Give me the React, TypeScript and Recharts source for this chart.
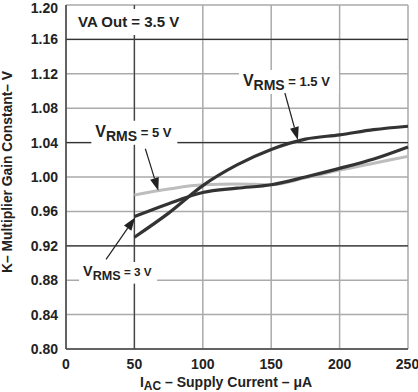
import {
  CartesianGrid,
  Label,
  Line,
  LineChart,
  ReferenceDot,
  ReferenceLine,
  XAxis,
  YAxis,
} from "recharts";

const currents = [50, 75, 100, 125, 150, 175, 200, 225, 250];
const vrms15 = [0.93, 0.958, 0.99, 1.014, 1.032, 1.044, 1.049, 1.055, 1.059];
const vrms3 = [0.954, 0.969, 0.982, 0.987, 0.991, 1.0, 1.01, 1.021, 1.035];
const vrms5 = [0.979, 0.986, 0.991, 0.992, 0.991, 0.999, 1.008, 1.016, 1.024];

const xTicks = [0, 50, 100, 150, 200, 250];
const yTicks = [0.8, 0.84, 0.88, 0.92, 0.96, 1.0, 1.04, 1.08, 1.12, 1.16, 1.2];
const darkRows = [1.16, 1.04, 0.92];
const darkCols = [50];

const data = currents.map((c, i) => ({
  current: c,
  v15: vrms15[i],
  v3: vrms3[i],
  v5: vrms5[i],
}));

const FONT = "'Liberation Sans', Arial, Helvetica, sans-serif";
const INK = "#222";

function Arrow({ x1, y1, x2, y2 }: { x1: number; y1: number; x2: number; y2: number }) {
  const dx = x2 - x1;
  const dy = y2 - y1;
  const len = Math.hypot(dx, dy);
  const ux = dx / len;
  const uy = dy / len;
  const hl = 13;
  const hw = 4.5;
  const bx = x2 - ux * hl;
  const by = y2 - uy * hl;
  return (
    <g>
      <line x1={x1} y1={y1} x2={bx} y2={by} stroke={INK} strokeWidth={1.2} />
      <polygon
        points={`${x2},${y2} ${bx - uy * hw},${by + ux * hw} ${bx + uy * hw},${by - ux * hw}`}
        fill={INK}
      />
    </g>
  );
}

// label "VRMS = x V" with an arrow pointing at (cx, cy)
function rmsNote(value: string, tail: [number, number], text: [number, number], box: number, s = 1) {
  return (p: any) => {
    const { cx, cy } = p;
    const tx = cx + text[0];
    const ty = cy + text[1];
    return (
      <g>
        <rect x={tx - 4} y={ty - 16 * s} width={box} height={24 * s} fill="#fff" />
        <Arrow x1={cx + tail[0]} y1={cy + tail[1]} x2={cx} y2={cy} />
        <text x={tx} y={ty} fontFamily={FONT} fontWeight="bold" fill={INK}>
          <tspan fontSize={16 * s}>V</tspan>
          <tspan fontSize={14 * s} dy={4 * s}>RMS</tspan>
          <tspan fontSize={13 * s} dy={-4 * s}>{` = ${value} V`}</tspan>
        </text>
      </g>
    );
  };
}

function vaNote(p: any) {
  const { cx, cy } = p;
  return (
    <g>
      <rect x={cx + 6} y={cy + 4} width={124} height={26} fill="#fff" />
      <text x={cx + 12} y={cy + 22} fontFamily={FONT} fontWeight="bold" fontSize={15} fill={INK}>
        VA Out = 3.5 V
      </text>
    </g>
  );
}

function YTick(p: any) {
  const { x, y, payload } = p;
  const shift = payload.value >= 1.2 ? 3 : 0;
  return (
    <text
      x={x}
      y={y + shift}
      dy="0.355em"
      textAnchor="end"
      fontFamily={FONT}
      fontWeight="bold"
      fontSize={14}
      fill={INK}
    >
      {Number(payload.value).toFixed(2)}
    </text>
  );
}

function XTitle(p: any) {
  const vb = p.viewBox;
  return (
    <text
      x={vb.x + vb.width / 2 - 11}
      y={vb.y + 38}
      textAnchor="middle"
      fontFamily={FONT}
      fontWeight="bold"
      fontSize={14}
      fill={INK}
    >
      <tspan>I</tspan>
      <tspan fontSize={12} dy={3}>AC</tspan>
      <tspan dy={-3}> – Supply Current – μA</tspan>
    </text>
  );
}

function YTitle(p: any) {
  const vb = p.viewBox;
  const cy = vb.y + vb.height / 2 - 5;
  return (
    <text
      x={12}
      y={cy}
      transform={`rotate(-90 12 ${cy})`}
      textAnchor="middle"
      fontFamily={FONT}
      fontWeight="bold"
      fontSize={14}
      textLength={202}
      lengthAdjust="spacingAndGlyphs"
      fill={INK}
    >
      K– Multiplier Gain Constant– V
    </text>
  );
}

export default function App() {
  const tick = { fontSize: 14, fontWeight: "bold", fill: INK, fontFamily: FONT };
  return (
    <div style={{ position: "absolute", left: 0, top: 0, background: "#fff" }}>
      <LineChart
        width={418}
        height={392}
        data={data}
        margin={{ top: 5, right: 10, left: 0, bottom: 0 }}
      >
        <CartesianGrid stroke="#aaa" strokeWidth={1.5} />
        <XAxis
          dataKey="current"
          type="number"
          domain={[0, 250]}
          ticks={xTicks}
          height={43}
          tickLine={false}
          tickSize={8}
          tickMargin={2}
          axisLine={{ stroke: "#444", strokeWidth: 1.5 }}
          tick={tick}
        >
          <Label content={XTitle} />
        </XAxis>
        <YAxis
          type="number"
          domain={[0.8, 1.2]}
          ticks={yTicks}
          width={66}
          tickLine={false}
          tickSize={8}
          tickMargin={0}
          interval={0}
          axisLine={{ stroke: "#444", strokeWidth: 1.5 }}
          tick={YTick}
        >
          <Label content={YTitle} />
        </YAxis>
        {darkRows.map((y) => (
          <ReferenceLine key={`r${y}`} y={y} stroke="#333" strokeWidth={1.3} />
        ))}
        {darkCols.map((x) => (
          <ReferenceLine key={`c${x}`} x={x} stroke="#444" strokeWidth={1.3} />
        ))}
        <ReferenceDot x={0} y={1.2} r={1} ifOverflow="visible" shape={vaNote} />
        <ReferenceDot
          x={169.5}
          y={1.043}
          r={1}
          ifOverflow="visible"
          shape={rmsNote("1.5", [-13, -47], [-55, -54], 100)}
        />
        <ReferenceDot
          x={67.5}
          y={0.984}
          r={1}
          ifOverflow="visible"
          shape={rmsNote("5", [-13, -42], [-63, -54], 86)}
        />
        <ReferenceDot
          x={50.5}
          y={0.953}
          r={1}
          ifOverflow="visible"
          shape={rmsNote("3", [-29, 42], [-52, 59], 78, 0.9)}
        />
        <Line
          dataKey="v5"
          type="monotone"
          stroke="#bdbdbd"
          strokeWidth={3}
          dot={false}
          isAnimationActive={false}
        />
        <Line
          dataKey="v3"
          type="monotone"
          stroke="#333"
          strokeWidth={3.2}
          dot={false}
          isAnimationActive={false}
        />
        <Line
          dataKey="v15"
          type="monotone"
          stroke="#333"
          strokeWidth={3.2}
          dot={false}
          isAnimationActive={false}
        />
      </LineChart>
    </div>
  );
}
